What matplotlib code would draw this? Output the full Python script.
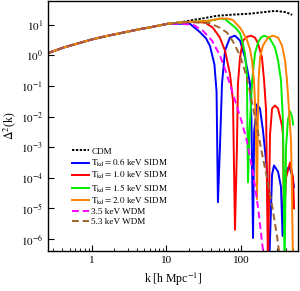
import numpy as np
import matplotlib
matplotlib.use('Agg')
import matplotlib.pyplot as plt
from matplotlib.ticker import FixedLocator, FixedFormatter, LogLocator, NullLocator, NullFormatter

plt.rcParams['font.family'] = 'serif'
plt.rcParams['font.serif'] = ['Liberation Serif', 'DejaVu Serif']
plt.rcParams['mathtext.fontset'] = 'stix'

# общий участок при малых k (все модели совпадают), значения log10(Delta^2)
k_low = [0.25, 0.4, 0.65, 1.0, 1.64, 2.6, 4.1, 6.5, 10.4, 15]
lg_low = [0.06, 0.24, 0.39, 0.52, 0.64, 0.74, 0.84, 0.93, 1.03, 1.07]

# CDM
k_cdm = [22, 30, 47, 80, 132, 200, 285, 400, 485]
lg_cdm = [1.15, 1.2, 1.29, 1.33, 1.36, 1.41, 1.45, 1.41, 1.32]

# SIDM, T_kd = 0.6 keV
k_06 = [20.6, 28, 34, 38.4, 44, 47, 49, 52, 55.6, 61, 71, 83, 97, 113, 132, 138, 145, 150,
        164, 180, 197, 223, 238, 261, 277, 314, 344, 361, 378, 402, 441, 484, 514]
lg_06 = [1.03, 0.76, 0.55, 0.3, -0.3, -1.2, -4.8, -3.1, -0.92, 0.15, 0.58, 0.64, 0.48, -0.07, -0.92, -2.1, -5.97, -2.5,
         -1.6, -1.75, -2.45, -3.75, -7, -3.9, -3.6, -3.8, -4.3, -5.9, -4.3, -3.8, -3.63, -3.9, -4.3]

# SIDM, T_kd = 1.0 keV
k_10 = [22, 32.9, 42, 52, 61, 71, 78, 83, 88, 91, 97, 106, 120, 136, 154, 169, 191, 204, 217, 230,
        245, 261, 286, 314, 355, 366, 378, 402, 455, 499, 515]
lg_10 = [1.1, 1.07, 0.9, 0.58, 0.15, -0.6, -1.48, -5.7, -3.1, -0.92, -0.07, 0.48, 0.6, 0.64, 0.58, 0.39, -0.07, -0.82, -1.8, -7,
         -2.6, -1.74, -1.64, -1.74, -2.3, -2.6, -5.5, -4.0, -3.5, -4.0, -5.0]

# SIDM, T_kd = 1.5 keV
k_15 = [25, 38, 52, 61, 71, 86, 97, 103, 113, 120, 124, 130, 141, 154, 169, 185, 204, 225, 245, 286,
        314, 344, 366, 384, 402, 427, 455, 484, 499]
lg_15 = [1.1, 1.13, 1.2, 1.18, 1.05, 0.88, 0.72, 0.5, 0.05, -0.66, -4.15, -2.5, -0.82, 0.06, 0.41, 0.58, 0.64, 0.6, 0.54, 0.25,
         -0.17, -0.82, -2.2, -7, -3, -2.1, -1.83, -2.0, -2.26]

# SIDM, T_kd = 2.0 keV
k_20 = [25, 38, 52, 65, 78, 97, 106, 120, 132, 141, 150, 157, 164, 168, 172, 180, 197, 230, 269, 314,
        355, 390, 414, 441, 469, 484, 500]
lg_20 = [1.1, 1.13, 1.2, 1.2, 1.15, 0.9, 0.75, 0.5, 0.2, -0.2, -0.9, -2.0, -4.7, -2.3, -0.82, -0.07, 0.32, 0.58, 0.64, 0.58,
         0.32, -0.17, -0.82, -1.8, -2.8, -4.7, -7]

# WDM 3.5 keV
k_w35 = [15.2, 22.7, 30.9, 40.8, 52, 61, 71, 85, 103, 120, 145, 169, 197, 230]
lg_w35 = [1.03, 1.0, 0.8, 0.48, 0.0, -0.45, -0.95, -1.55, -2.2, -2.8, -3.85, -4.96, -6.36, -7.8]

# WDM 5.3 keV
k_w53 = [22, 38, 52, 65, 78, 97, 120, 141, 164, 191, 223, 261, 304, 340]
lg_w53 = [1.08, 1.05, 0.9, 0.74, 0.45, -0.01, -0.73, -1.55, -2.35, -3.2, -4.0, -4.9, -5.9, -6.8]


def curve(k_tail, lg_tail, n_low=len(k_low)):
    k = np.array(k_low[:n_low] + k_tail)
    d = 10.0 ** np.array(lg_low[:n_low] + lg_tail)
    return k, d


fig = plt.figure(figsize=(3.0, 2.91), dpi=100)
ax = fig.add_axes([0.16, 0.137, 0.833, 0.86])

k, d = curve(k_cdm, lg_cdm)
ax.plot(k, d, color='black', lw=1.4, ls=(0, (1.2, 0.8)), label='CDM')

series = [
    (k_06, lg_06, '#0000ff', r'$\mathrm{T_{kd}} = 0.6$ keV SIDM', 9),
    (k_10, lg_10, '#ff0000', r'$\mathrm{T_{kd}} = 1.0$ keV SIDM', 10),
    (k_15, lg_15, '#00ee00', r'$\mathrm{T_{kd}} = 1.5$ keV SIDM', 10),
    (k_20, lg_20, '#ff8000', r'$\mathrm{T_{kd}} = 2.0$ keV SIDM', 10),
]
for kt, lt, c, lab, n in series:
    k, d = curve(kt, lt, n)
    ax.plot(k, d, color=c, lw=1.4, label=lab)

k, d = curve(k_w35, lg_w35, 9)
ax.plot(k, d, color='#ff00ff', lw=1.4, ls=(0, (3.5, 2)), label='3.5 keV WDM')
k, d = curve(k_w53, lg_w53, 10)
ax.plot(k, d, color='#a0642d', lw=1.4, ls=(0, (3.5, 2)), label='5.3 keV WDM')

ax.set_xscale('log')
ax.set_yscale('log')
ax.set_xlim(0.257, 580)
ax.set_ylim(4e-7, 60)

ax.xaxis.set_major_locator(FixedLocator([1, 10, 100]))
ax.xaxis.set_major_formatter(FixedFormatter(['1', '10', '100']))
ax.xaxis.set_minor_locator(LogLocator(base=10, subs=np.arange(2, 10)))
ax.xaxis.set_minor_formatter(NullFormatter())
yt = [1e-6, 1e-5, 1e-4, 1e-3, 1e-2, 1e-1, 1, 10]
ax.yaxis.set_major_locator(FixedLocator(yt))
ax.yaxis.set_major_formatter(FixedFormatter([r'$10^{%d}$' % e for e in range(-6, 2)]))
ax.yaxis.set_minor_locator(NullLocator())

ax.tick_params(which='both', direction='in', top=False, right=False, labelsize=8)
ax.tick_params(which='major', length=4, width=0.8)
ax.tick_params(which='minor', length=2, width=0.6)
for s in ax.spines.values():
    s.set_linewidth(1.0)

ax.set_xlabel(r'k [h Mpc$^{-1}$]', fontsize=8.5, labelpad=4)
ax.set_ylabel(r'$\Delta^2$(k)', fontsize=8.5, labelpad=2)

ax.legend(loc='upper left', bbox_to_anchor=(0.095, 0.415), frameon=False, fontsize=6.6,
          handlelength=1.9, handletextpad=0.25, labelspacing=0.12, borderpad=0, borderaxespad=0)

fig.savefig('out.png', dpi=100)
